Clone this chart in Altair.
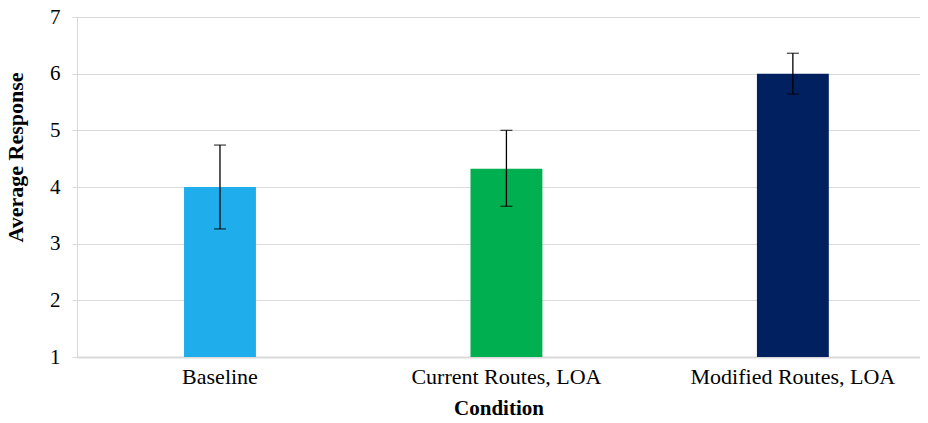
import altair as alt
import pandas as pd

conditions = ["Baseline", "Current Routes, LOA", "Modified Routes, LOA"]
means = [4.0, 4.32, 6.0]
err_low = [3.26, 3.66, 5.64]
err_high = [4.74, 5.0, 6.36]
colors = ["#1FAEEB", "#00B050", "#002060"]
y_ticks = [1, 2, 3, 4, 5, 6, 7]

df = pd.DataFrame({
    "Condition": conditions,
    "Average Response": means,
    "lo": err_low,
    "hi": err_high,
})

FONT = "Liberation Serif"

x = alt.X(
    "Condition:N",
    sort=None,
    scale=alt.Scale(paddingInner=0.749, paddingOuter=0.346, align=0.54),
    axis=alt.Axis(
        title="Condition", labelAngle=0, ticks=False, domain=True,
        domainColor="#d9d9d9", domainWidth=2, labelLimit=0, labelOverlap=False,
        labelFont=FONT, labelFontSize=22, labelColor="#000000", labelPadding=9,
        titleFont=FONT, titleFontSize=21, titleFontWeight="bold", titleColor="#000000",
        titlePadding=10, grid=False,
    ),
)

y_scale = alt.Scale(domain=[1, 7], nice=False, zero=False)

bars = alt.Chart(df).mark_bar().encode(
    x=x,
    y=alt.Y(
        "Average Response:Q",
        scale=y_scale,
        axis=alt.Axis(
            values=y_ticks, format="d", title="Average Response", grid=True, gridColor="#d9d9d9",
            gridWidth=1, domain=True, domainColor="#d9d9d9", ticks=True, tickSize=5,
            tickColor="#d9d9d9", labelFont=FONT, labelFontSize=21, labelColor="#000000",
            labelPadding=12, titleFont=FONT, titleFontSize=22, titleFontWeight="bold",
            titleColor="#000000", titleX=-55, titleY=140, titleBaseline="alphabetic",
            titleAngle=-90, titleAlign="center",
        ),
    ),
    y2=alt.datum(1),
    color=alt.Color("Condition:N", sort=None,
                    scale=alt.Scale(domain=conditions, range=colors), legend=None),
)

rule = alt.Chart(df).mark_rule(color="#000000", strokeWidth=1.3).encode(
    x=alt.X("Condition:N", sort=None),
    y=alt.Y("lo:Q", scale=y_scale),
    y2="hi:Q",
)

cap_lo = alt.Chart(df).mark_tick(color="#000000", orient="horizontal", size=12, thickness=1.3).encode(
    x=alt.X("Condition:N", sort=None),
    y=alt.Y("lo:Q", scale=y_scale),
)
cap_hi = alt.Chart(df).mark_tick(color="#000000", orient="horizontal", size=12, thickness=1.3).encode(
    x=alt.X("Condition:N", sort=None),
    y=alt.Y("hi:Q", scale=y_scale),
)

chart = alt.layer(bars, rule, cap_lo, cap_hi).properties(
    width=843,
    height=340,
    autosize=alt.AutoSizeParams(type="none"),
    padding={"left": 69, "top": 9, "right": 0, "bottom": 66},
).configure_view(stroke=None).configure(background="#ffffff")

chart.save("out.html", embed_options={"renderer": "svg", "actions": False})
